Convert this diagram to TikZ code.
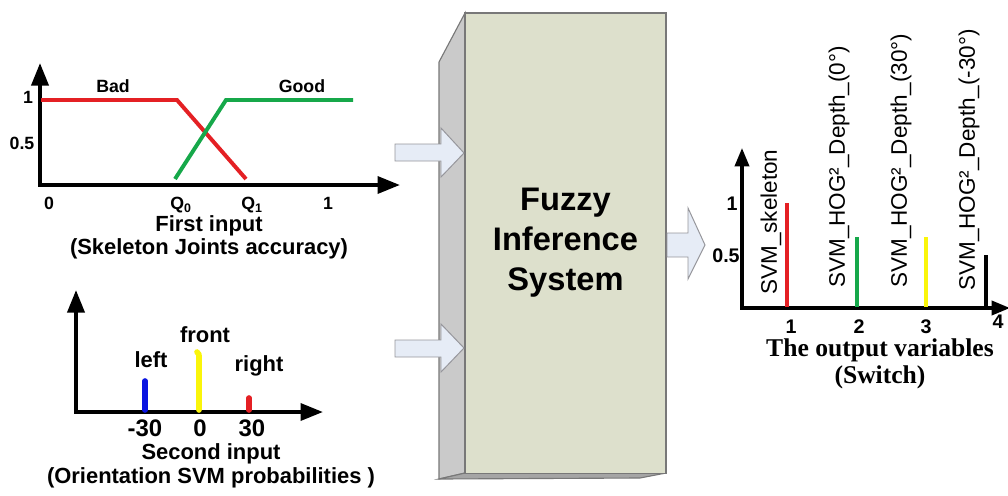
\documentclass[tikz,border=0pt]{standalone}
\usepackage{fontspec}
\setmainfont{Liberation Sans}
\newfontfamily\timesfont{Liberation Serif}
\usetikzlibrary{arrows.meta}
\definecolor{fred}{RGB}{228,32,36}
\definecolor{fgreen}{RGB}{22,168,74}
\definecolor{fblue}{RGB}{10,20,225}
\definecolor{fyellow}{RGB}{250,245,10}
\definecolor{boxfront}{RGB}{221,224,204}
\definecolor{boxside}{RGB}{202,202,202}
\definecolor{boxbottom}{RGB}{165,165,165}
\definecolor{boxedge}{RGB}{120,120,120}
\definecolor{arrfill}{RGB}{230,236,246}
\definecolor{arredge}{RGB}{150,150,155}
\begin{document}
\begin{tikzpicture}[x=0.025cm,y=-0.025cm,
  bigaxis/.style={line width=2.8pt,{Triangle[length=16pt,width=12pt]}-{Triangle[length=16pt,width=12pt]}},
  smallaxis/.style={line width=2.4pt,{Triangle[length=13pt,width=10pt]}-{Triangle[length=13pt,width=10pt]}},
  mf/.style={line width=2.8pt},
  bar/.style={line width=4pt,line cap=round},
  outbar/.style={line width=2.4pt},
  small/.style={font=\bfseries\fontsize{12.6pt}{14pt}\selectfont,inner sep=0pt},
  caption/.style={font=\bfseries\fontsize{15.6pt}{18pt}\selectfont,inner sep=0pt},
  tick/.style={font=\bfseries\fontsize{17pt}{19pt}\selectfont,inner sep=0pt},
  rtick/.style={font=\bfseries\fontsize{14pt}{16pt}\selectfont,inner sep=0pt},
  vlab/.style={font=\fontsize{16pt}{18pt}\selectfont,rotate=90,anchor=west,inner sep=0pt},
  serifcap/.style={font=\timesfont\bfseries\fontsize{18.2pt}{20pt}\selectfont,inner sep=0pt},
  blockarrow/.style={fill=arrfill,draw=arredge,line width=0.7pt,line join=miter},
  fisbox/.style={fill=boxfront,draw=boxedge,line width=0.8pt,minimum width=5.025cm,minimum height=11.5cm,
    align=center,font=\bfseries\fontsize{23.2pt}{28.5pt}\selectfont}
]
\useasboundingbox (0,0) rectangle (1008,495);

% ---------- first input ----------
\draw[bigaxis] (40,63) -- (40,185) -- (400,185);
\draw[mf,fred] (41,100) -- (177,100) -- (246,179);
\draw[mf,fgreen] (175,179) -- (226,100) -- (353,100);
\node[small] (one1) at (28,97) {1};
\node[small] (half1) at (22,143) {0.5};
\node[small] (bad) at (113,86) {Bad};
\node[small] (good) at (302,86) {Good};
\node[small] (zero1) at (49,203) {0};
\node[small] (q0) at (181,205) {Q\textsubscript{0}};
\node[small] (q1) at (252,205) {Q\textsubscript{1}};
\node[small] (onex) at (328,203) {1};
\node[caption] (first) at (209,226) {First input};
\node[caption] (firstsub) at (209,249) {(Skeleton Joints accuracy)};

% ---------- second input ----------
\draw[bigaxis] (76,290) -- (76,412) -- (323,412);
\draw[bar,fblue] (145,410) -- (145,381);
\draw[bar,fyellow] (199,410) -- (199,358) .. controls (199,354) .. (197,352);
\draw[bar,fred] (249,410) -- (249,398);
\node[caption] (left) at (151,360) {left};
\node[caption] (front) at (205,335) {front};
\node[caption] (right) at (259,366) {right};
\node[tick] (m30) at (145,428) {-30};
\node[tick] (z30) at (200,428) {0};
\node[tick] (p30) at (252,428) {30};
\node[caption] (second) at (211,454) {Second input};
\node[caption] (secondsub) at (211,478) {(Orientation SVM probabilities )};

% ---------- fuzzy inference system ----------
\fill[boxside,draw=boxedge,line width=0.8pt] (439,62) -- (465,13) -- (465,473) -- (439,479) -- cycle;
\fill[boxbottom,draw=boxedge,line width=0.8pt] (439,479) -- (465,473) -- (666,473) -- (640,478) -- cycle;
\node[fisbox] (fis) at (565.5,243) {Fuzzy\\Inference\\System};

\draw[blockarrow] (395,144) -- (441,144) -- (441,128) -- (464,153) -- (441,177) -- (441,161) -- (395,161) -- cycle;
\draw[blockarrow] (395,340) -- (441,340) -- (441,324) -- (464,348) -- (441,372) -- (441,357) -- (395,357) -- cycle;
\draw[blockarrow] (667,233) -- (688,233) -- (688,208) -- (705,245) -- (688,279) -- (688,257) -- (667,257) -- cycle;

% ---------- output ----------
\draw[smallaxis] (742,148) -- (742,308) -- (1010,308);
\draw[outbar,fred] (787,307) -- (787,203);
\draw[outbar,fgreen] (857,307) -- (857,237);
\draw[outbar,fyellow] (926,307) -- (926,237);
\draw[outbar,black] (986,307) -- (986,255);
\node[rtick] (one3) at (732,204) {1};
\node[rtick] (half3) at (726,256) {0.5};
\node[rtick] (x1) at (791,327) {1};
\node[rtick] (x2) at (859,327) {2};
\node[rtick] (x3) at (926,327) {3};
\node[rtick] (x4) at (998,322) {4};
\node[vlab] (svmsk) at (771,295) {SVM\_skeleton};
\node[vlab] (svm0) at (839,288) {SVM\_HOG²\_Depth\_(0°)};
\node[vlab] (svm30) at (901,288) {SVM\_HOG²\_Depth\_(30°)};
\node[vlab] (svmm30) at (969,291) {SVM\_HOG²\_Depth\_(-30°)};
\node[serifcap] (outcap) at (880,350) {The output variables};
\node[serifcap] (switch) at (880,377) {(Switch)};
\end{tikzpicture}
\end{document}
